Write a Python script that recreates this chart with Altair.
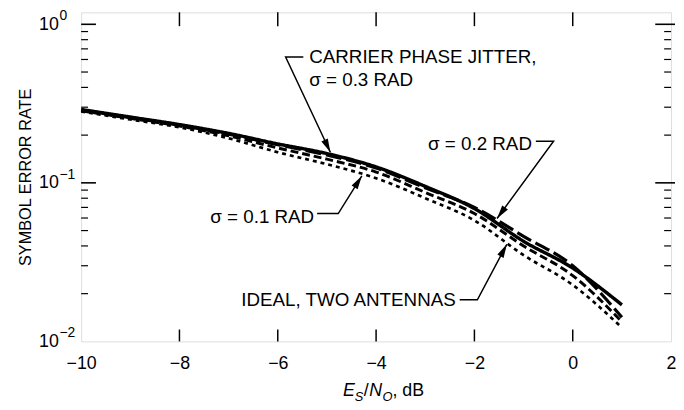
import math
import altair as alt
import pandas as pd

# ---- data ----
es_no = [-10, -9, -8, -7, -6, -5, -4, -3, -2, -1, 0, 1]
ser_ideal = [0.282, 0.251, 0.224, 0.191, 0.156, 0.131, 0.107, 0.080, 0.0579, 0.035, 0.0227, 0.0122]
ser_s01 = [0.285, 0.255, 0.228, 0.198, 0.166, 0.141, 0.117, 0.087, 0.064, 0.040, 0.026, 0.0133]
ser_s02 = [0.288, 0.258, 0.231, 0.203, 0.174, 0.150, 0.124, 0.093, 0.070, 0.046, 0.030, 0.0142]
ser_s03 = [0.290, 0.260, 0.233, 0.205, 0.176, 0.153, 0.126, 0.095, 0.0688, 0.0428, 0.0290, 0.0170]
series_names = ["s03", "s02", "s01", "ideal"]

x_label_vals = [-10, -8, -6, -4, -2, 0, 2]
x_tick_vals = [-8, -6, -4, -2, 0]
y_label_vals = [1, 0.1, 0.01]
y_exponents = ["0", "\u22121", "\u22122"]
y_major_inner = [1, 0.1]
y_minor = [0.02, 0.03, 0.04, 0.05, 0.06, 0.07, 0.08, 0.09,
           0.2, 0.3, 0.4, 0.5, 0.6, 0.7, 0.8, 0.9]
y_domain = [0.01, 1.19]

# annotations (data coordinates)
txt_left = ["CARRIER PHASE JITTER,", "\u03c3 = 0.3 RAD"]
txt_left_x = [-5.36, -5.36]
txt_left_y = [0.622, 0.447]
txt_right = ["\u03c3 = 0.2 RAD", "\u03c3 = 0.1 RAD", "IDEAL, TWO ANTENNAS"]
txt_right_x = [-0.83, -5.26, -2.38]
txt_right_y = [0.175, 0.0604, 0.0183]

lead_id = ["a", "a", "a", "b", "b", "b", "c", "c", "c", "d", "d", "d"]
lead_ord = [0, 1, 2, 0, 1, 2, 0, 1, 2, 0, 1, 2]
lead_x = [-5.48, -5.84, -4.93, -0.75, -0.39, -1.54, -5.20, -4.77, -4.29, -2.30, -1.94, -1.34]
lead_y = [0.622, 0.622, 0.156, 0.183, 0.183, 0.0596, 0.064, 0.064, 0.1106, 0.0183, 0.0183, 0.041]

W, H = 597, 333
FONT = "Liberation Sans"

curves = pd.DataFrame({
    "x": es_no * 4,
    "y": ser_s03 + ser_s02 + ser_s01 + ser_ideal,
    "series": sum([[n] * len(es_no) for n in series_names], []),
})

xs = alt.Scale(domain=[-10, 2], nice=False, zero=False)
ys = alt.Scale(type="log", domain=y_domain, nice=False)
L0, L1 = math.log10(y_domain[0]), math.log10(y_domain[1])


def px(x, y):
    return W * (x + 10) / 12.0, H * (L1 - math.log10(y)) / (L1 - L0)


tips = []
for k in range(4):
    x0, y0 = px(lead_x[3 * k + 1], lead_y[3 * k + 1])
    x1, y1 = px(lead_x[3 * k + 2], lead_y[3 * k + 2])
    ang = math.degrees(math.atan2(x1 - x0, -(y1 - y0))) % 360
    tips.append({"x": lead_x[3 * k + 2], "y": lead_y[3 * k + 2], "ang": ang})
tips = pd.DataFrame(tips)

X = alt.X("x:Q", scale=xs, axis=alt.Axis(
    values=x_label_vals, ticks=False, tickSize=0, grid=False, domain=False,
    labelExpr="datum.value < 0 ? '\u2212' + abs(datum.value) : '' + datum.value",
    labelFontSize=18, labelPadding=13, labelFont=FONT, labelColor="black",
    labelFlush=False, title=None))
Y = alt.Y("y:Q", scale=ys, axis=alt.Axis(
    values=y_label_vals, ticks=False, tickSize=0, grid=False, domain=False,
    labelExpr="'10'", labelFontSize=18, labelPadding=23, labelFont=FONT,
    labelColor="black", title="SYMBOL ERROR RATE", titleFontSize=16.5,
    titleFont=FONT, titleFontWeight="normal", titlePadding=5, titleColor="black"))

lines = alt.Chart(curves).mark_line(interpolate="monotone", color="black").encode(
    x=X, y=Y,
    strokeDash=alt.StrokeDash("series:N", scale=alt.Scale(
        domain=series_names, range=[[1, 0], [16, 5], [8, 4], [4, 4]]), legend=None),
    strokeWidth=alt.StrokeWidth("series:N", scale=alt.Scale(
        domain=series_names, range=[3.5, 2.7, 2.7, 2.6]), legend=None),
    detail="series:N",
)

# inward ticks
df_xt = pd.DataFrame({"x": x_tick_vals})
bt = alt.Chart(df_xt).mark_rule(color="black", strokeWidth=1.5).encode(
    x=alt.X("x:Q", scale=xs), y=alt.value(H), y2=alt.value(H - 12))
tt = alt.Chart(df_xt).mark_rule(color="black", strokeWidth=1.5).encode(
    x=alt.X("x:Q", scale=xs), y=alt.value(0), y2=alt.value(14))
df_ymaj = pd.DataFrame({"y": y_major_inner})
df_ymin = pd.DataFrame({"y": y_minor})
lmaj = alt.Chart(df_ymaj).mark_rule(color="black", strokeWidth=1.6).encode(
    y=alt.Y("y:Q", scale=ys), x=alt.value(0), x2=alt.value(15))
lmin = alt.Chart(df_ymin).mark_rule(color="black", strokeWidth=1.2).encode(
    y=alt.Y("y:Q", scale=ys), x=alt.value(0), x2=alt.value(7))
rmaj = alt.Chart(df_ymaj).mark_rule(color="black", strokeWidth=1.6).encode(
    y=alt.Y("y:Q", scale=ys), x=alt.value(W + 4), x2=alt.value(W - 16))
rmin = alt.Chart(df_ymin).mark_rule(color="black", strokeWidth=1.2).encode(
    y=alt.Y("y:Q", scale=ys), x=alt.value(W), x2=alt.value(W - 7))

# exponents for y labels
df_exp = pd.DataFrame({"y": y_label_vals, "t": y_exponents})
exps = alt.Chart(df_exp).mark_text(align="left", baseline="middle", fontSize=14,
                                   font=FONT, dy=-8, color="black").encode(
    y=alt.Y("y:Q", scale=ys), x=alt.value(-22), text="t:N")

# annotations
df_tl = pd.DataFrame({"x": txt_left_x, "y": txt_left_y, "t": txt_left})
df_tr = pd.DataFrame({"x": txt_right_x, "y": txt_right_y, "t": txt_right})
tl = alt.Chart(df_tl).mark_text(align="left", baseline="middle", fontSize=19,
                                font=FONT, color="black").encode(
    x=alt.X("x:Q", scale=xs), y=alt.Y("y:Q", scale=ys), text="t:N")
tr = alt.Chart(df_tr).mark_text(align="right", baseline="middle", fontSize=19,
                                font=FONT, color="black").encode(
    x=alt.X("x:Q", scale=xs), y=alt.Y("y:Q", scale=ys), text="t:N")
df_lead = pd.DataFrame({"x": lead_x, "y": lead_y, "id": lead_id, "o": lead_ord})
leads = alt.Chart(df_lead).mark_line(color="black", strokeWidth=1.5).encode(
    x=alt.X("x:Q", scale=xs), y=alt.Y("y:Q", scale=ys), detail="id:N", order="o:Q")
heads = alt.Chart(tips).mark_point(
    shape="M0,0L-0.26,1L0.26,1Z", filled=True, color="black", opacity=1,
    size=760, strokeWidth=0).encode(
    x=alt.X("x:Q", scale=xs), y=alt.Y("y:Q", scale=ys),
    angle=alt.Angle("ang:Q", scale=None))

# x title with italic / subscript parts
xt_parts = ["E", "S", "/", "N", "O", ", dB"]
xt_x = [265, 277, 286, 291.5, 305, 315]
xt_dy = [0, 6, 0, 0, 6, 0]
xt_size = [18, 13, 18, 18, 13, 18]
xt_style = ["italic", "italic", "normal", "italic", "italic", "normal"]
title_layers = []
for t, xx, dy, fs, st in zip(xt_parts, xt_x, xt_dy, xt_size, xt_style):
    title_layers.append(
        alt.Chart(pd.DataFrame({"t": [t]})).mark_text(
            align="left", baseline="middle", fontSize=fs, fontStyle=st,
            font=FONT, color="black", dy=dy).encode(
            x=alt.value(xx), y=alt.value(383), text="t:N"))

chart = alt.layer(lines, bt, tt, lmaj, lmin, rmaj, rmin, exps, tl, tr, leads, heads,
                  *title_layers).properties(
    width=W, height=H,
    autosize=alt.AutoSizeParams(type="none"),
    padding={"left": 74, "top": 2, "right": 5, "bottom": 62},
).configure_view(stroke="black", strokeWidth=2.4).configure(background="white")

chart.save("out.html", embed_options={"renderer": "svg", "actions": False})
